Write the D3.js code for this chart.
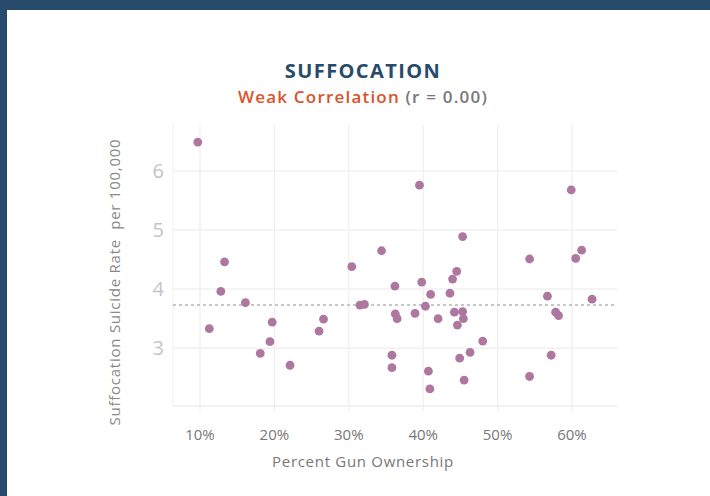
<!DOCTYPE html>
<html>
<head>
<meta charset="utf-8">
<script src="https://cdn.jsdelivr.net/npm/d3@7"></script>
<style>
  html, body { margin: 0; padding: 0; background: #fff; }
  body { width: 710px; height: 496px; overflow: hidden; font-family: "Open Sans", "Lato", sans-serif; }
</style>
</head>
<body>
<div id="chart"></div>
<script>
// gun ownership (%) per state
var gunOwnership = [9.7, 11.25, 12.8, 13.3, 16.1, 18.1, 19.4, 19.7, 22.1, 26.0, 26.6,
  30.4, 31.5, 32.1, 34.4, 35.8, 35.8, 36.2, 36.25, 36.5, 38.9, 39.5, 39.8, 40.3,
  40.7, 40.9, 41.0, 42.0, 43.6, 43.95, 44.2, 44.5, 44.6, 44.9, 45.3, 45.3, 45.4,
  45.5, 46.3, 48.0,
  54.3, 54.3, 56.7, 57.2, 57.8, 58.2, 59.9, 60.5, 61.3, 62.7];
// suffocation suicide rate per 100,000
var suffRate = [6.49, 3.33, 3.96, 4.46, 3.77, 2.91, 3.11, 3.44, 2.71, 3.29, 3.49,
  4.38, 3.73, 3.74, 4.65, 2.88, 2.67, 4.05, 3.58, 3.50, 3.59, 5.76, 4.12, 3.71,
  2.61, 2.31, 3.91, 3.50, 3.93, 4.17, 3.61, 4.30, 3.39, 2.83, 4.89, 3.62, 3.50,
  2.46, 2.93, 3.12,
  4.51, 2.52, 3.88, 2.88, 3.61, 3.55, 5.68, 4.52, 4.66, 3.83];
var xTicks = [10, 20, 30, 40, 50, 60];
var yTicks = [3, 4, 5, 6];
var meanRate = 3.73;

var width = 710, height = 496;
var plot = { left: 173, right: 617, top: 125, bottom: 406 };

var svg = d3.select("#chart").append("svg")
  .attr("width", width).attr("height", height);

// frame
svg.append("rect").attr("x", 0).attr("y", 0).attr("width", width).attr("height", 10).attr("fill", "#284a6b");
svg.append("rect").attr("x", 0).attr("y", 0).attr("width", 7).attr("height", height).attr("fill", "#284a6b");

var x = d3.scaleLinear().domain([6.37, 66.05]).range([plot.left, plot.right]);
var y = d3.scaleLinear().domain([2.02, 6.78]).range([plot.bottom, plot.top]);

// grid
svg.append("g").selectAll("line").data(xTicks).join("line")
  .attr("x1", function(d) { return x(d); }).attr("x2", function(d) { return x(d); })
  .attr("y1", plot.top).attr("y2", plot.bottom + 5)
  .attr("stroke", "#eeeeee").attr("stroke-width", 1.2);
svg.append("g").selectAll("line").data(yTicks).join("line")
  .attr("x1", plot.left).attr("x2", plot.right)
  .attr("y1", function(d) { return y(d); }).attr("y2", function(d) { return y(d); })
  .attr("stroke", "#f0f0f0").attr("stroke-width", 1.5);
svg.append("line")
  .attr("x1", plot.left).attr("x2", plot.right)
  .attr("y1", plot.bottom).attr("y2", plot.bottom)
  .attr("stroke", "#eeeeee").attr("stroke-width", 1.5);
svg.append("line")
  .attr("x1", plot.left).attr("x2", plot.left)
  .attr("y1", plot.top).attr("y2", plot.bottom)
  .attr("stroke", "#f0f0f0").attr("stroke-width", 1);

// tick labels
svg.append("g").selectAll("text").data(xTicks).join("text")
  .attr("x", function(d) { return x(d); }).attr("y", 440)
  .attr("text-anchor", "middle")
  .attr("font-size", 15).attr("fill", "#777")
  .text(function(d) { return d + "%"; });
svg.append("g").selectAll("text").data(yTicks).join("text")
  .attr("x", 164).attr("y", function(d) { return y(d) + 7; })
  .attr("text-anchor", "end")
  .attr("font-size", 20).attr("fill", "#c4c4c4")
  .text(function(d) { return d; });

// mean line
svg.append("line")
  .attr("x1", plot.left).attr("x2", plot.right)
  .attr("y1", y(meanRate)).attr("y2", y(meanRate))
  .attr("stroke", "#b5b5b5").attr("stroke-width", 1.5)
  .attr("stroke-dasharray", "3,3");

// points
var pts = gunOwnership.map(function(g, i) { return { g: g, r: suffRate[i] }; });
svg.append("g").selectAll("circle").data(pts).join("circle")
  .attr("cx", function(d) { return x(d.g); })
  .attr("cy", function(d) { return y(d.r); })
  .attr("r", 4.4)
  .attr("fill", "#ad779f");

// titles
svg.append("text").attr("x", 363).attr("y", 78)
  .attr("text-anchor", "middle")
  .attr("font-size", 20).attr("font-weight", "bold").attr("fill", "#284a6b")
  .attr("letter-spacing", 1.4)
  .text("SUFFOCATION");
var sub = svg.append("text").attr("x", 363).attr("y", 103)
  .attr("text-anchor", "middle")
  .attr("font-size", 17).attr("font-weight", 600)
  .attr("letter-spacing", 1.2);
sub.append("tspan").attr("fill", "#d9532b").text("Weak Correlation ");
sub.append("tspan").attr("fill", "#777").text("(r = 0.00)");

// axis titles
svg.append("text").attr("x", 363).attr("y", 467)
  .attr("text-anchor", "middle")
  .attr("font-size", 15).attr("fill", "#777")
  .attr("letter-spacing", 0.7)
  .text("Percent Gun Ownership");
svg.append("text")
  .attr("transform", "translate(120," + 282 + ") rotate(-90)")
  .attr("text-anchor", "middle")
  .attr("font-size", 15).attr("fill", "#888")
  .attr("letter-spacing", 0.75)
  .attr("xml:space", "preserve")
  .text("Suffocation Suicide Rate  per 100,000");
</script>
</body>
</html>
